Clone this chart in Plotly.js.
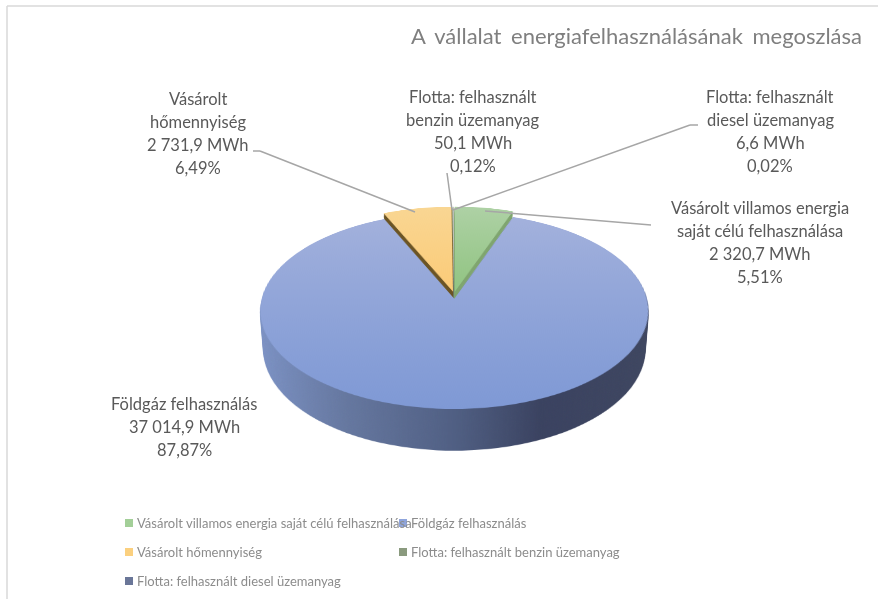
<!DOCTYPE html>
<html><head><meta charset="utf-8">
<script src="https://cdn.plot.ly/plotly-3.0.1.min.js"></script>
<style>
html,body{margin:0;padding:0;background:#fff;}
#stage{position:relative;width:878px;height:599px;overflow:hidden;background:#fff;}
.disc{position:absolute;transform-origin:50% 50%;}
.disc svg{position:absolute;left:0;top:0;}
#overlay{position:absolute;left:0;top:0;width:878px;height:599px;}
#overlay .gtitle{word-spacing:4px;}
</style></head>
<body>
<svg width="0" height="0" style="position:absolute">
<defs>
<linearGradient id="topBlue" x1="0" y1="0" x2="0" y2="1"><stop offset="0" stop-color="#a3b1dc"/><stop offset="1" stop-color="#7f99d5"/></linearGradient>
<linearGradient id="topGreen" x1="0" y1="0" x2="0" y2="1"><stop offset="0" stop-color="#aed1a5"/><stop offset="1" stop-color="#91c482"/></linearGradient>
<linearGradient id="topYellow" x1="0" y1="0" x2="0" y2="1"><stop offset="0" stop-color="#f9d693"/><stop offset="1" stop-color="#fbcb78"/></linearGradient>
<linearGradient id="sideBlue" x1="0" y1="0" x2="1" y2="0"><stop offset="0" stop-color="#7d93c6"/><stop offset="0.25" stop-color="#65779f"/><stop offset="0.5" stop-color="#505f83"/><stop offset="0.7" stop-color="#3a4260"/><stop offset="1" stop-color="#3e4660"/></linearGradient>
</defs>
</svg>
<div id="stage"><div id="discs"></div><div id="overlay"></div></div>
<script>
// --- data ---
const categories = ['Vásárolt villamos energia saját célú felhasználása','Földgáz felhasználás','Vásárolt hőmennyiség','Flotta: felhasznált benzin üzemanyag','Flotta: felhasznált diesel üzemanyag'];
const values = [2320.7, 37014.9, 2731.9, 50.1, 6.6];
const valueTexts = ['2 320,7 MWh','37 014,9 MWh','2 731,9 MWh','50,1 MWh','6,6 MWh'];
const percentTexts = ['5,51%','87,87%','6,49%','0,12%','0,02%'];
const nameLines = [['Vásárolt villamos energia','saját célú felhasználása'],['Földgáz felhasználás'],['Vásárolt','hőmennyiség'],['Flotta: felhasznált','benzin üzemanyag'],['Flotta: felhasznált','diesel üzemanyag']];
const swatchColors = ['#a3cf98','#8fa5dc','#fbd07f','#8a9a7e','#6a7698'];
const chartTitle = 'A vállalat energiafelhasználásának megoszlása';

// --- styles / geometry ---
const W=878,H=599;
const pulls=[0.025,0.05,0.025,0.025,0.025];
const S=402, CX=453.5, CY=294, PERSP=1380, TILT=60, DEPTH=45;
const topFills=['url(#topGreen)','url(#topBlue)','url(#topYellow)','#c9cfc4','#c4c8d4'];
const smallSide=['#7fa56f','none','#6b5424','#6c7a60','#4d5672'];
const blueSide=['none','url(#sideBlue)','none','none','none'];
const labelPos=[[760,[208,231,254,277]],[184,[404,427,450]],[198,[99,122,145,168]],[473,[97,120,143,166]],[770,[97,120,143,166]]];
const leaders=[
 [[485,211],[651,225]],
 [],
 [[253,151],[260,151],[415,212]],
 [[447,173],[452,210]],
 [[698,125],[690,125],[453,210]]
];
const legendPos=[[125,523,135],[399,523,409],[125,552,135],[399,552,409],[125,581,135]];

const px=x=>x/W, py=y=>1-y/H;
function tf(z){return `perspective(${PERSP}px) rotateX(${TILT}deg) translateZ(${z}px)`;}
function mkDisc(z){const d=document.createElement('div');d.className='disc';
 d.style.cssText=`left:${CX-S/2}px;top:${CY-S/2}px;width:${S}px;height:${S}px;transform:${tf(z)}`;return d;}

const holder=document.getElementById('discs');
const topDisc=mkDisc(0);holder.appendChild(topDisc);
Plotly.newPlot(topDisc,[{type:'pie',labels:categories,values:values,sort:false,direction:'clockwise',rotation:0,
  pull:pulls,textinfo:'none',hoverinfo:'skip',marker:{colors:swatchColors,line:{width:0}},domain:{x:[0,1],y:[0,1]}}],
 {width:S,height:S,margin:{l:0,r:0,t:0,b:0},paper_bgcolor:'rgba(0,0,0,0)',showlegend:false},
 {staticPlot:true,displayModeBar:false}).then(()=>{
  const svg=topDisc.querySelector('.main-svg');
  const setFill=(root,fills)=>{root.querySelectorAll('path.surface').forEach((p,i)=>{
     p.style.fill=fills[i]; p.style.stroke='none';
     if(fills[i]==='none')p.style.display='none';});};
  const addLayers=(fills)=>{for(let z=-DEPTH;z<0;z+=1){
     const d=mkDisc(z);const c=svg.cloneNode(true);setFill(c,fills);d.appendChild(c);holder.insertBefore(d,topDisc);}};
  addLayers(smallSide);
  addLayers(blueSide);
  setFill(svg,topFills);
 });

// --- overlay: title, labels, leaders, legend ---
const annotations=[];const shapes=[];
const labelFont={family:'Lato, "Open Sans", sans-serif',size:16.5,color:'#595959'};
categories.forEach((c,i)=>{
  const lines=nameLines[i].concat([valueTexts[i],percentTexts[i]]);
  lines.forEach((t,j)=>annotations.push({text:t,xref:'paper',yref:'paper',x:px(labelPos[i][0]),y:py(labelPos[i][1][j]),xanchor:'center',yanchor:'middle',showarrow:false,font:labelFont}));
  const L=leaders[i];
  for(let k=0;k+1<L.length;k++)shapes.push({type:'line',xref:'paper',yref:'paper',x0:px(L[k][0]),y0:py(L[k][1]),x1:px(L[k+1][0]),y1:py(L[k+1][1]),line:{color:'#a6a6a6',width:1.5}});
  const P=legendPos[i];
  shapes.push({type:'rect',xref:'paper',yref:'paper',x0:px(P[0]),x1:px(P[0]+8),y0:py(P[1]-4),y1:py(P[1]+4),line:{width:0},fillcolor:swatchColors[i]});
  annotations.push({text:c,xref:'paper',yref:'paper',x:px(P[2]),y:py(P[1]),xanchor:'left',yanchor:'middle',showarrow:false,font:{family:'Lato, "Open Sans", sans-serif',size:13,color:'#8c8c8c'}});
});
// chart frame
[[7,6,878,6],[7,6,7,599]].forEach(f=>shapes.push({type:'line',xref:'paper',yref:'paper',x0:px(f[0]),y0:py(f[1]),x1:px(f[2]),y1:py(f[3]),line:{color:'#d9d9d9',width:1.5}}));
Plotly.newPlot('overlay',[],{width:W,height:H,margin:{l:0,r:0,t:0,b:0},paper_bgcolor:'rgba(0,0,0,0)',plot_bgcolor:'rgba(0,0,0,0)',
  xaxis:{visible:false},yaxis:{visible:false},showlegend:false,annotations:annotations,shapes:shapes,
  title:{text:chartTitle,x:px(862),xanchor:'right',y:py(36),yanchor:'middle',xref:'paper',yref:'paper',font:{family:'Lato, "Open Sans", sans-serif',size:22,color:'#7f7f7f'}}},
  {staticPlot:true,displayModeBar:false});
</script>
</body></html>
